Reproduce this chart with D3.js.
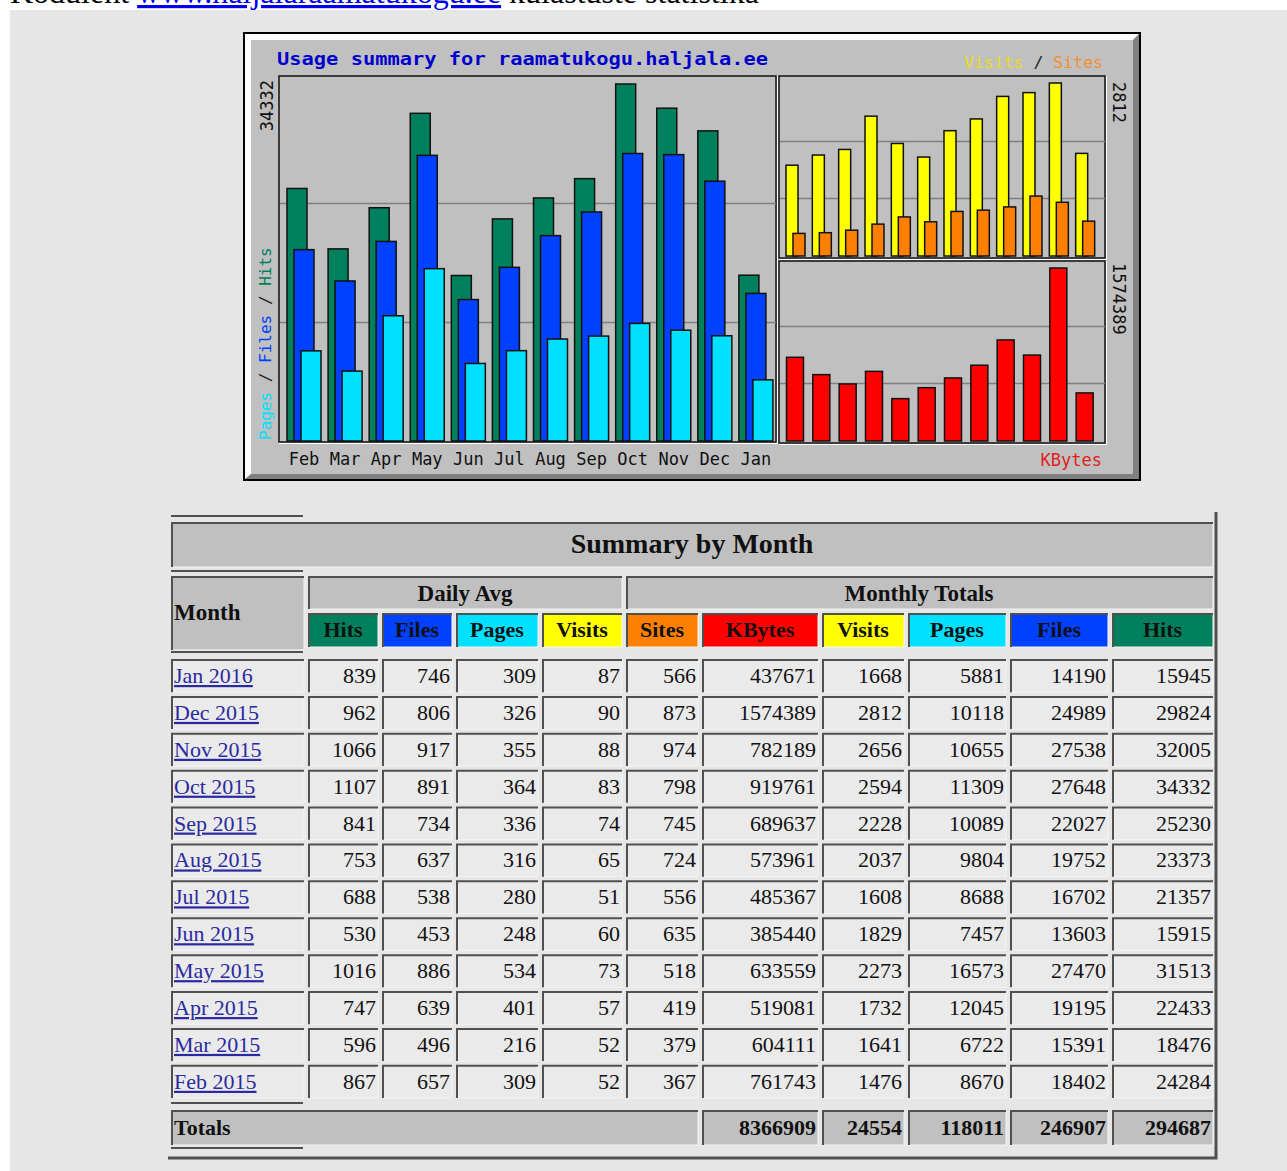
<!DOCTYPE html>
<html>
<head>
<meta charset="utf-8">
<script src="https://cdn.jsdelivr.net/npm/d3@7"></script>
<style>
    body { margin: 0; background: #fff; overflow: hidden; }
</style>
</head>
<body>
<div id="page"></div>
<script>
    // chart months (oldest first) and table rows (newest first)
    var months = ["Feb", "Mar", "Apr", "May", "Jun", "Jul", "Aug", "Sep", "Oct", "Nov", "Dec", "Jan"];
    var rowLabels = ["Jan 2016", "Dec 2015", "Nov 2015", "Oct 2015", "Sep 2015", "Aug 2015",
        "Jul 2015", "Jun 2015", "May 2015", "Apr 2015", "Mar 2015", "Feb 2015"];

    // Daily averages
    var dayHits = [839, 962, 1066, 1107, 841, 753, 688, 530, 1016, 747, 596, 867];
    var dayFiles = [746, 806, 917, 891, 734, 637, 538, 453, 886, 639, 496, 657];
    var dayPages = [309, 326, 355, 364, 336, 316, 280, 248, 534, 401, 216, 309];
    var dayVisits = [87, 90, 88, 83, 74, 65, 51, 60, 73, 57, 52, 52];

    // Monthly totals
    var totSites = [566, 873, 974, 798, 745, 724, 556, 635, 518, 419, 379, 367];
    var totKBytes = [437671, 1574389, 782189, 919761, 689637, 573961, 485367, 385440, 633559, 519081, 604111, 761743];
    var totVisits = [1668, 2812, 2656, 2594, 2228, 2037, 1608, 1829, 2273, 1732, 1641, 1476];
    var totPages = [5881, 10118, 10655, 11309, 10089, 9804, 8688, 7457, 16573, 12045, 6722, 8670];
    var totFiles = [14190, 24989, 27538, 27648, 22027, 19752, 16702, 13603, 27470, 19195, 15391, 18402];
    var totHits = [15945, 29824, 32005, 34332, 25230, 23373, 21357, 15915, 31513, 22433, 18476, 24284];

    var totalsRow = [8366909, 24554, 118011, 246907, 294687];
    var headLabels = ["Hits", "Files", "Pages", "Visits", "Sites", "KBytes", "Visits", "Pages", "Files", "Hits"];

    var colors = d3.scaleOrdinal()
        .domain(["Hits", "Files", "Pages", "Visits", "Sites", "KBytes"])
        .range(["#00805c", "#0040ff", "#00e0ff", "#ffff00", "#ff8000", "#ff0000"]);

    var mono = "'DejaVu Sans Mono', 'Liberation Mono', monospace";
    var serif = "'Liberation Serif', 'Times New Roman', serif";

    var svg = d3.select("#page")
        .append("svg")
        .attr("width", 1287)
        .attr("height", 1171);

    svg.append("rect").attr("width", 1287).attr("height", 1171).attr("fill", "#fff");
    svg.append("rect")
        .attr("x", 10).attr("y", 10)
        .attr("width", 1277).attr("height", 1161)
        .attr("fill", "#e6e6e6");

    // page heading, scrolled mostly off the top as in the screenshot
    var heading = svg.append("text")
        .attr("x", 10).attr("y", 3)
        .style("font-family", serif)
        .style("font-size", "32px");
    heading.append("tspan").text("Koduleht ");
    heading.append("tspan")
        .attr("fill", "#0000ee")
        .style("text-decoration", "underline")
        .text("www.haljalaraamatukogu.ee");
    heading.append("tspan").text(" külastuste statistika");

    // ==============================
    // Usage summary graph
    // ==============================
    var chart = svg.append("g");

    chart.append("rect")
        .attr("x", 244).attr("y", 33)
        .attr("width", 896).attr("height", 447)
        .attr("fill", "#c0c0c0")
        .attr("stroke", "#000")
        .attr("stroke-width", 2);
    chart.append("path")
        .attr("d", "M245,34 H1139 L1133,40 H251 V474 L245,479 Z")
        .attr("fill", "#fff");
    chart.append("path")
        .attr("d", "M1139,34 V479 H245 L251,474 H1133 V40 Z")
        .attr("fill", "#808080");

    chart.append("text")
        .attr("x", 277).attr("y", 65)
        .attr("textLength", 491)
        .attr("lengthAdjust", "spacingAndGlyphs")
        .attr("fill", "#0000cc")
        .style("font-family", mono)
        .style("font-weight", "bold")
        .style("font-size", "18px")
        .text("Usage summary for raamatukogu.haljala.ee");

    function panel(x, y, w, h) {
        chart.append("rect")
            .attr("x", x).attr("y", y)
            .attr("width", w).attr("height", h)
            .attr("fill", "#c0c0c0")
            .attr("stroke", "#111")
            .attr("stroke-width", 1.5);
        chart.append("path")
            .attr("d", `M${x + w + 1.5},${y} V${y + h + 1.5} H${x}`)
            .attr("fill", "none")
            .attr("stroke", "#fff")
            .attr("stroke-width", 1);
    }

    function grid(yScale, max, x1, x2) {
        chart.selectAll(null)
            .data([max / 3, max * 2 / 3])
            .enter()
            .append("line")
            .attr("x1", x1).attr("x2", x2)
            .attr("y1", d => Math.round(yScale(d)) + 0.5)
            .attr("y2", d => Math.round(yScale(d)) + 0.5)
            .attr("stroke", "#808080")
            .attr("stroke-width", 1.5);
    }

    function bars(data, xScale, yScale, offset, width, fill) {
        chart.append("g")
            .selectAll("rect")
            .data(data)
            .enter()
            .append("rect")
            .attr("x", (d, i) => xScale(months[i]) + offset)
            .attr("y", d => yScale(d))
            .attr("width", width)
            .attr("height", d => yScale(0) - yScale(d))
            .attr("fill", fill)
            .attr("stroke", "#111")
            .attr("stroke-width", 1.5);
    }

    // main panel: hits / files / pages
    var xMain = d3.scaleBand().domain(months).range([281, 774]);
    var maxHits = d3.max(totHits);
    var yMain = d3.scaleLinear().domain([0, maxHits]).range([441, 84]);

    panel(279, 76, 497, 366);
    grid(yMain, maxHits, 280, 776);
    bars(totHits.slice().reverse(), xMain, yMain, 6, 20, colors("Hits"));
    bars(totFiles.slice().reverse(), xMain, yMain, 13, 20, colors("Files"));
    bars(totPages.slice().reverse(), xMain, yMain, 20, 20, colors("Pages"));

    chart.append("g")
        .selectAll("text")
        .data(months)
        .enter()
        .append("text")
        .attr("x", d => xMain(d) + 23)
        .attr("y", 465)
        .attr("text-anchor", "middle")
        .attr("fill", "#111")
        .style("font-family", mono)
        .style("font-size", "17px")
        .text(d => d);

    chart.append("text")
        .attr("transform", "translate(273, 80) rotate(-90)")
        .attr("text-anchor", "end")
        .attr("fill", "#111")
        .style("font-family", mono)
        .style("font-size", "17px")
        .text(maxHits);

    var leftLabel = chart.append("text")
        .attr("transform", "translate(271, 440) rotate(-90)")
        .style("font-family", mono)
        .style("font-size", "16px");
    leftLabel.append("tspan").attr("fill", colors("Pages")).text("Pages");
    leftLabel.append("tspan").attr("fill", "#222").text(" / ");
    leftLabel.append("tspan").attr("fill", colors("Files")).text("Files");
    leftLabel.append("tspan").attr("fill", "#222").text(" / ");
    leftLabel.append("tspan").attr("fill", colors("Hits")).text("Hits");

    // right top panel: visits / sites
    var xRight = d3.scaleBand().domain(months).range([781, 1097]);
    var maxVisits = d3.max(totVisits);
    var yVisits = d3.scaleLinear().domain([0, maxVisits]).range([256, 83]);

    panel(779, 76, 326, 182);
    grid(yVisits, maxVisits, 780, 1105);
    bars(totVisits.slice().reverse(), xRight, yVisits, 5, 12, colors("Visits"));
    bars(totSites.slice().reverse(), xRight, yVisits, 12, 12, colors("Sites"));

    // right bottom panel: kbytes
    var maxKB = d3.max(totKBytes);
    var yKB = d3.scaleLinear().domain([0, maxKB]).range([441, 268]);

    panel(779, 261, 326, 182);
    grid(yKB, maxKB, 780, 1105);
    bars(totKBytes.slice().reverse(), xRight, yKB, 5.5, 17, colors("KBytes"));

    chart.append("text")
        .attr("transform", "translate(1113, 82) rotate(90)")
        .attr("fill", "#111")
        .style("font-family", mono)
        .style("font-size", "17px")
        .text(maxVisits);

    chart.append("text")
        .attr("transform", "translate(1113, 263) rotate(90)")
        .attr("fill", "#111")
        .style("font-family", mono)
        .style("font-size", "17px")
        .text(maxKB);

    var visLabel = chart.append("text")
        .attr("x", 1103).attr("y", 68)
        .attr("text-anchor", "end")
        .style("font-family", mono)
        .style("font-size", "16.5px");
    visLabel.append("tspan").attr("fill", "#e8dc20").text("Visits");
    visLabel.append("tspan").attr("fill", "#222").text(" / ");
    visLabel.append("tspan").attr("fill", "#f09030").text("Sites");

    chart.append("text")
        .attr("x", 1102).attr("y", 466)
        .attr("text-anchor", "end")
        .attr("fill", "#e02020")
        .style("font-family", mono)
        .style("font-size", "17px")
        .text("KBytes");

    // ==============================
    // Summary by Month table
    // ==============================
    var table = svg.append("g");

    var colX = [171, 308, 382, 456, 542, 626, 702, 822, 908, 1010, 1112];
    var colW = [133, 70, 70, 82, 80, 72, 116, 82, 98, 98, 101];

    function cell(x, y, w, h, fill) {
        var g = table.append("g");
        g.append("rect")
            .attr("x", x).attr("y", y)
            .attr("width", w).attr("height", h)
            .attr("fill", fill);
        g.append("path")
            .attr("d", `M${x + 1},${y + h} V${y + 1} H${x + w}`)
            .attr("fill", "none")
            .attr("stroke", "#505050")
            .attr("stroke-width", 2);
        g.append("path")
            .attr("d", `M${x + w},${y + 2} V${y + h} H${x + 2}`)
            .attr("fill", "none")
            .attr("stroke", "#f4f4f4")
            .attr("stroke-width", 1);
        return g;
    }

    function cellText(x, y, txt, anchor, size, weight, fill) {
        return table.append("text")
            .attr("x", x).attr("y", y)
            .attr("text-anchor", anchor)
            .attr("fill", fill || "#111")
            .style("font-family", serif)
            .style("font-size", size + "px")
            .style("font-weight", weight)
            .text(txt);
    }

    // outer table border
    table.append("path")
        .attr("d", "M1216,512 V1158 H168")
        .attr("fill", "none")
        .attr("stroke", "#505050")
        .attr("stroke-width", 3);

    // empty spacer rows
    table.selectAll(".spacer")
        .data([516, 571, 652, 1103, 1148])
        .enter()
        .append("line")
        .attr("x1", 171).attr("x2", 303)
        .attr("y1", d => d).attr("y2", d => d)
        .attr("stroke", "#505050")
        .attr("stroke-width", 2);

    cell(171, 522, 1042, 45, "#c0c0c0");
    cellText(692, 553, "Summary by Month", "middle", 28, "bold");

    cell(171, 576, 133, 74, "#c0c0c0");
    cellText(174, 620, "Month", "start", 23, "bold");
    cell(308, 576, 314, 33, "#c0c0c0");
    cellText(465, 601, "Daily Avg", "middle", 23, "bold");
    cell(626, 576, 587, 33, "#c0c0c0");
    cellText(919, 601, "Monthly Totals", "middle", 23, "bold");

    headLabels.forEach(function(lab, i) {
        cell(colX[i + 1], 613, colW[i + 1], 34, colors(lab));
        cellText(colX[i + 1] + colW[i + 1] / 2, 637, lab, "middle", 22, "bold", "#111");
    });

    var columns = [dayHits, dayFiles, dayPages, dayVisits, totSites, totKBytes, totVisits, totPages, totFiles, totHits];

    var yRow = d3.scaleBand()
        .domain(rowLabels)
        .range([659, 1098])
        .paddingInner(0.1);

    rowLabels.forEach(function(lab, r) {
        var y = yRow(lab);
        var h = yRow.bandwidth();
        cell(colX[0], y, colW[0], h, "#eaeaea");
        table.append("text")
            .attr("x", 174).attr("y", y + 24)
            .attr("fill", "#2a2aa0")
            .style("font-family", serif)
            .style("font-size", "22px")
            .style("text-decoration", "underline")
            .text(lab);
        columns.forEach(function(col, c) {
            cell(colX[c + 1], y, colW[c + 1], h, "#eaeaea");
            cellText(colX[c + 1] + colW[c + 1] - 2, y + 24, col[r], "end", 22, "normal");
        });
    });

    // totals row
    cell(171, 1110, 527, 35, "#c0c0c0");
    cellText(174, 1135, "Totals", "start", 22, "bold");
    totalsRow.forEach(function(v, i) {
        var c = i + 6;
        cell(colX[c], 1110, colW[c], 35, "#c0c0c0");
        cellText(colX[c] + colW[c] - 2, 1135, v, "end", 22, "bold");
    });
</script>
</body>
</html>
